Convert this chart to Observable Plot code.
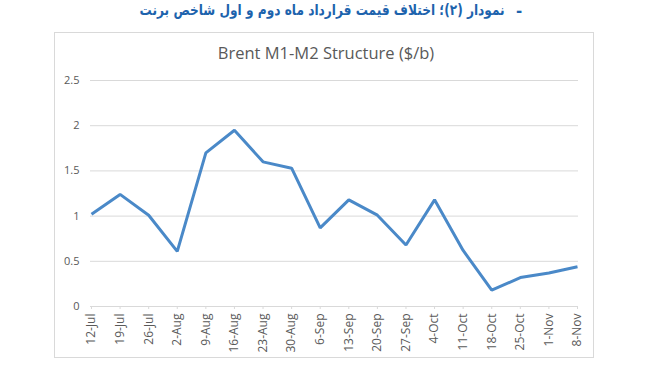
<!DOCTYPE html>
<html>
<head>
<meta charset="utf-8">
<script src="https://cdn.jsdelivr.net/npm/d3@7"></script>
<script src="https://cdn.jsdelivr.net/npm/@observablehq/plot@0.6"></script>
<style>
  body { margin: 0; background: #fff; width: 656px; height: 378px; overflow: hidden; position: relative; font-family: "Open Sans", "Liberation Sans", sans-serif; }
  #dash { position: absolute; top: 2px; left: 516px; font-family: "DejaVu Sans", sans-serif; font-weight: bold; font-size: 15px; color: #1d63ad; }
  #heading { position: absolute; top: 1px; right: 151px; direction: rtl; white-space: pre; font-family: "DejaVu Sans", sans-serif; font-weight: bold; font-size: 15px; color: #1d63ad; transform: scaleX(0.81); transform-origin: right center; }
  #box { position: absolute; left: 54px; top: 32px; width: 538px; height: 324px; border: 1px solid #d9d9d9; }
  #ctitle { position: absolute; left: 0; width: 652px; top: 41px; text-align: center; font-size: 16.5px; color: #595959; font-family: "Open Sans", sans-serif; }
  #chart { position: absolute; left: 0; top: 28px; }
</style>
</head>
<body>
<div id="dash">-</div>
<div id="heading">نمودار (۲)؛ اختلاف قیمت قرارداد ماه دوم و اول شاخص برنت</div>
<div id="box"></div>
<div id="ctitle">Brent M1-M2 Structure ($/b)</div>
<div id="chart"></div>
<script>
const dates = ["12-Jul","19-Jul","26-Jul","2-Aug","9-Aug","16-Aug","23-Aug","30-Aug","6-Sep","13-Sep","20-Sep","27-Sep","4-Oct","11-Oct","18-Oct","25-Oct","1-Nov","8-Nov"];
const spread = [1.02,1.24,1.01,0.61,1.70,1.95,1.60,1.53,0.87,1.18,1.01,0.68,1.18,0.62,0.18,0.32,0.37,0.44];
const yTicks = [0,0.5,1,1.5,2,2.5];
const yTickLabels = ["0","0.5","1","1.5","2","2.5"];

const data = dates.map((d, i) => ({date: d, value: spread[i]}));

const plot = Plot.plot({
  width: 656,
  height: 350,
  marginLeft: 90,
  marginRight: 78,
  marginTop: 52,
  marginBottom: 72,
  style: {fontFamily: "'Open Sans', sans-serif", fontSize: "11px", color: "#595959", background: "transparent", overflow: "visible"},
  x: {type: "point", domain: dates, range: [91, 577], padding: 0, round: false, label: null},
  y: {domain: [0, 2.5], label: null},
  marks: [
    Plot.gridY(yTicks.slice(1), {stroke: "#d9d9d9", strokeOpacity: 1, strokeWidth: 1}),
    Plot.axisY(yTicks, {tickSize: 0, tickPadding: 11, tickFormat: (d) => yTickLabels[yTicks.indexOf(d)], fill: "#595959", fontSize: 11}),
    Plot.ruleY([0], {stroke: "#d9d9d9", strokeWidth: 1}),
    Plot.axisX({tickSize: 3, stroke: "#d9d9d9", tickRotate: -90, tickPadding: 4, fill: "#595959", fontSize: 12}),
    Plot.line(data, {x: "date", y: "value", stroke: "#4a89c8", strokeWidth: 3, strokeLinejoin: "miter", strokeLinecap: "butt"})
  ]
});
document.getElementById("chart").appendChild(plot);
</script>
</body>
</html>
